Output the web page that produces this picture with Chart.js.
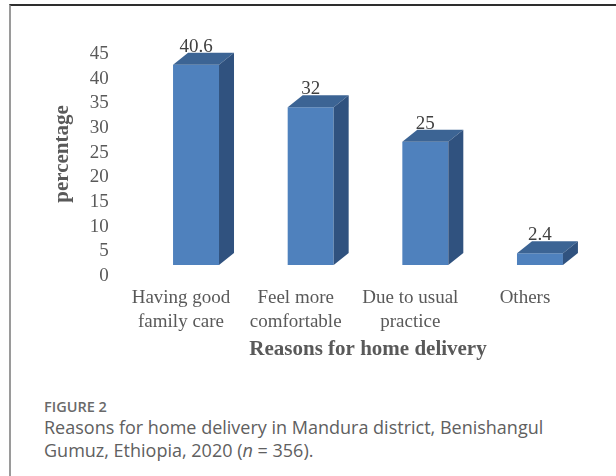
<!DOCTYPE html>
<html>
<head>
<meta charset="utf-8">
<script src="https://cdn.jsdelivr.net/npm/chart.js@4.4.1/dist/chart.umd.min.js"></script>
<style>
    html, body {
        margin: 0;
        padding: 0;
        background: #ffffff;
    }
    #page {
        position: relative;
        width: 616px;
        height: 476px;
        overflow: hidden;
    }
    #frame {
        position: absolute;
        left: 9px;
        top: 4px;
        width: 640px;
        height: 500px;
        border-left: 2px solid #9a9a9a;
        border-top: 2px solid #2e2e2e;
    }
    #chart-wrap {
        position: absolute;
        left: 0;
        top: 0;
        width: 616px;
        height: 370px;
    }
    .fig-label {
        position: absolute;
        left: 44px;
        top: 397px;
        font-family: "Open Sans", sans-serif;
        font-weight: 600;
        font-size: 14.5px;
        color: #6a6a6a;
    }
    .fig-caption {
        position: absolute;
        left: 44px;
        top: 416px;
        width: 570px;
        font-family: "Open Sans", sans-serif;
        font-size: 18px;
        line-height: 23px;
        color: #606060;
    }
</style>
</head>
<body>
<div id="page">
    <div id="frame"></div>
    <div id="chart-wrap"><canvas id="barChart" width="616" height="370"></canvas></div>
    <div class="fig-label">FIGURE 2</div>
    <div class="fig-caption">Reasons for home delivery in Mandura district, Benishangul<br>Gumuz, Ethiopia, 2020 (<i>n</i> = 356).</div>
</div>
<script>
const categories = [
    ['Having good', 'family care'],
    ['Feel more', 'comfortable'],
    ['Due to usual', 'practice'],
    'Others'
];
const percentages = [40.6, 32, 25, 2.4];
const yMin = 0;
const yMax = 45;
const yStep = 5;

const frontColor = '#4f81bd';
const topColor = '#3c6494';
const sideColor = '#30527f';
const depthX = 15;
const depthY = 12;

// draws the top and side faces plus the value labels on top of each bar
const boxes3d = {
    id: 'boxes3d',
    afterDatasetsDraw(chart) {
        const ctx = chart.ctx;
        const meta = chart.getDatasetMeta(0);
        ctx.save();
        meta.data.forEach((bar, i) => {
            const left = bar.x - bar.width / 2;
            const right = bar.x + bar.width / 2;

            ctx.fillStyle = topColor;
            ctx.beginPath();
            ctx.moveTo(left, bar.y);
            ctx.lineTo(left + depthX, bar.y - depthY);
            ctx.lineTo(right + depthX, bar.y - depthY);
            ctx.lineTo(right, bar.y);
            ctx.closePath();
            ctx.fill();

            ctx.fillStyle = sideColor;
            ctx.beginPath();
            ctx.moveTo(right, bar.y);
            ctx.lineTo(right + depthX, bar.y - depthY);
            ctx.lineTo(right + depthX, bar.base - depthY);
            ctx.lineTo(right, bar.base);
            ctx.closePath();
            ctx.fill();

            ctx.fillStyle = '#404040';
            ctx.font = '19px "Liberation Serif", serif';
            ctx.textAlign = 'center';
            ctx.textBaseline = 'alphabetic';
            ctx.fillText(String(percentages[i]), bar.x, bar.y - depthY - 1);
        });
        ctx.restore();
    }
};

const barChartCtx = document.getElementById('barChart').getContext('2d');
const barChart = new Chart(barChartCtx, {
    type: 'bar',
    data: {
        labels: categories,
        datasets: [{
            data: percentages,
            backgroundColor: frontColor,
            borderWidth: 0,
            barPercentage: 0.401,
            categoryPercentage: 1
        }]
    },
    options: {
        responsive: false,
        animation: false,
        devicePixelRatio: 1,
        layout: {
            padding: { left: 0, top: 43, right: 18.7, bottom: 0 }
        },
        plugins: {
            legend: { display: false },
            tooltip: { enabled: false }
        },
        scales: {
            x: {
                grid: { display: false, drawTicks: false },
                border: { display: false },
                ticks: {
                    color: '#595959',
                    font: { family: '"Liberation Serif", serif', size: 19, lineHeight: 1.26 },
                    padding: 21,
                    labelOffset: -15,
                    maxRotation: 0,
                    autoSkip: false
                },
                title: {
                    display: true,
                    text: 'Reasons for home delivery',
                    color: '#595959',
                    font: { family: '"Liberation Serif", serif', size: 21, weight: 'bold' },
                    padding: { top: 0, bottom: 7.4 }
                },
                afterFit: (scale) => {
                    scale.height = 105;
                }
            },
            y: {
                min: yMin,
                max: yMax,
                grid: { display: false, drawTicks: false },
                border: { display: false },
                ticks: {
                    stepSize: yStep,
                    autoSkip: false,
                    color: '#595959',
                    font: { family: '"Liberation Serif", serif', size: 19 },
                    padding: 30,
                    labelOffset: 11
                },
                title: {
                    display: true,
                    text: 'percentage',
                    color: '#595959',
                    font: { family: '"Liberation Serif", serif', size: 21, weight: 'bold' },
                    padding: { top: 50, bottom: 0 }
                },
                afterFit: (scale) => {
                    scale.width = 138.7;
                }
            }
        }
    },
    plugins: [boxes3d]
});
</script>
</body>
</html>
